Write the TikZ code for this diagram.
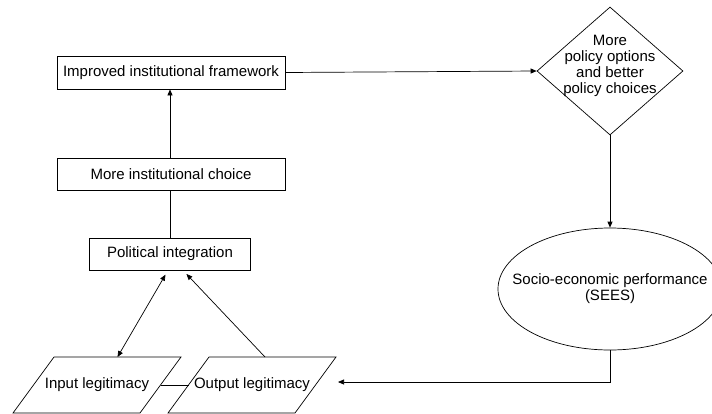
\documentclass[tikz,border=0pt]{standalone}
\usepackage{fontspec}
\setmainfont{Liberation Sans}
\usetikzlibrary{shapes.geometric,arrows.meta}

\begin{document}
\begin{tikzpicture}[x=1pt,y=-1pt,line width=0.7pt,
  font=\fontsize{15}{16}\selectfont,
  >={Triangle[length=6pt,width=5pt]},
  box/.style={draw,rectangle,inner sep=2pt},
  legit/.style={inner sep=2pt}]
\useasboundingbox (0,0) rectangle (712,413);

\node[box,minimum width=228,minimum height=33] (frame) at (171,72.5) {Improved institutional framework};
\node[box,minimum width=228,minimum height=32] (choice) at (171,174) {More institutional choice};
\node[box,minimum width=161,minimum height=32] (integ) at (170,254) {Political integration};

\node[draw,diamond,minimum width=146,minimum height=128,inner sep=0pt] (pol) at (610,71) {};
\node[align=center] (poltext) at (610,66) {More\\policy options\\and better\\policy choices};

\node[draw,ellipse,minimum width=224,minimum height=122,inner sep=0pt,
  label={[align=center]center:Socio-economic performance\\(SEES)}] (sees) at (610,289) {};

% parallelograms, drawn round the two text nodes
\node[legit] (inp) at (97,385) {Input legitimacy};
\node[legit] (outp) at (252,385) {Output legitimacy};
\draw ([shift={(-84,28)}]inp.center) -- ++(41,-56) -- ++(127,0) -- ++(-41,56) -- cycle;
\draw ([shift={(-84,28)}]outp.center) -- ++(41,-56) -- ++(127,0) -- ++(-41,56) -- cycle;

\coordinate (ret) at (338,382);

\draw[->] (integ.north |- choice.north) -- (integ.north |- frame.south);
\draw (integ.north) -- (integ.north |- choice.south);
\draw[->] (frame.east) -- (pol.west);
\draw[->] (pol.south) -- (sees.north);
\draw[->] (sees.south) |- (ret);
\draw ([xshift=63.5]inp.center) -- ([xshift=-63.5]outp.center);
\draw[<->,shorten <=5pt] ([xshift=-2]integ.south) -- ([shift={(20.5,-28)}]inp.center);
\draw[->,shorten >=5pt] ([shift={(13,-28)}]outp.center) -- ([xshift=13]integ.south);
\end{tikzpicture}
\end{document}
